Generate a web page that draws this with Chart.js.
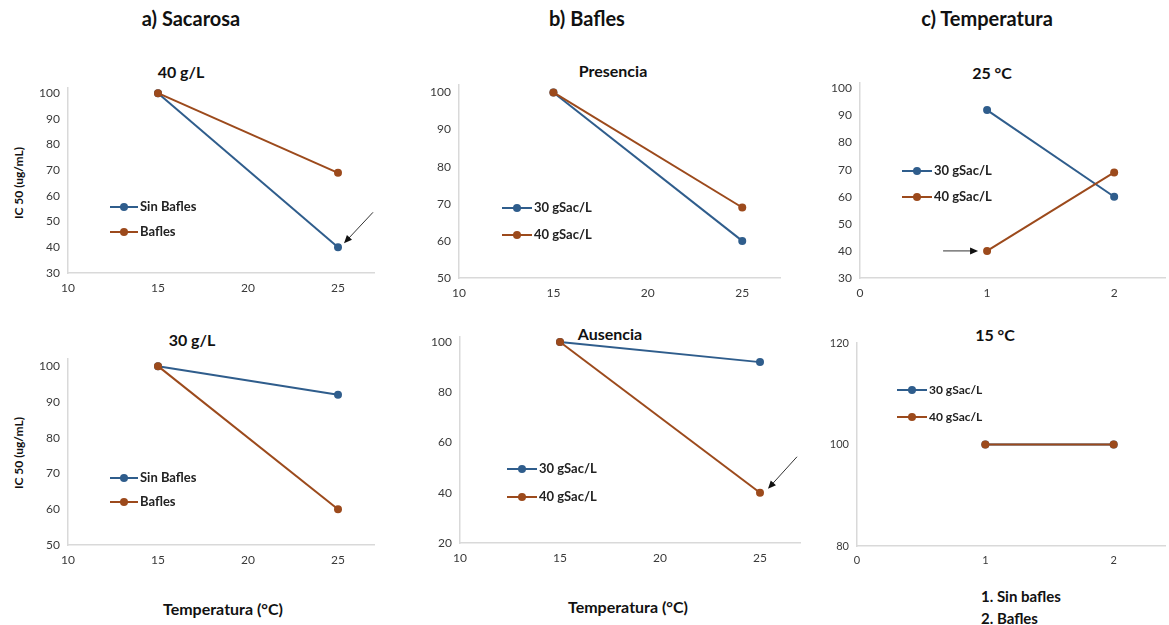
<!DOCTYPE html>
<html>
<head>
<meta charset="utf-8">
<script src="https://cdn.jsdelivr.net/npm/chart.js@4.4.0/dist/chart.umd.min.js"></script>
<style>
body{margin:0;background:#fff;width:1169px;height:625px;position:relative;overflow:hidden;font-family:Lato,"Open Sans",sans-serif;color:#111;}
.box{position:absolute;}
.lbl{position:absolute;transform:translate(-50%,-50%);font-weight:bold;white-space:nowrap;}
.head{font-size:20px;}
.sub{font-size:16px;}
.ytit{font-size:12px;transform:translate(-50%,-50%) rotate(-90deg);}
.note{position:absolute;font-weight:bold;font-size:15px;white-space:nowrap;transform:translateY(-50%);}
</style>
</head>
<body>

<div class="lbl head" style="left:191px;top:18px">a) Sacarosa</div>
<div class="lbl head" style="left:587px;top:18px">b) Bafles</div>
<div class="lbl head" style="left:987px;top:18px">c) Temperatura</div>

<div class="lbl sub" style="left:181px;top:71px">40 g/L</div>
<div class="lbl sub" style="left:192px;top:339px">30 g/L</div>
<div class="lbl sub" style="left:613px;top:70px">Presencia</div>
<div class="lbl sub" style="left:610px;top:333px">Ausencia</div>
<div class="lbl sub" style="left:992px;top:72px">25 °C</div>
<div class="lbl sub" style="left:995px;top:334px">15 °C</div>

<div class="lbl ytit" style="left:18px;top:183px">IC 50 (ug/mL)</div>
<div class="lbl ytit" style="left:18px;top:453px">IC 50 (ug/mL)</div>
<div class="lbl sub" style="left:223px;top:608px">Temperatura (°C)</div>
<div class="lbl sub" style="left:628px;top:606px">Temperatura (°C)</div>
<div class="note" style="left:981px;top:596px">1. Sin bafles</div>
<div class="note" style="left:981px;top:618px">2. Bafles</div>

<script>
// datos
const temperaturas = [15, 25];
const codigoBafles = [1, 2];

const sac40SinBafles = [100, 40];
const sac40Bafles = [100, 69];
const sac30SinBafles = [100, 92];
const sac30Bafles = [100, 60];

const presencia30 = [100, 60];
const presencia40 = [100, 69];
const ausencia30 = [100, 92];
const ausencia40 = [100, 40];

const t25gSac30 = [92, 60];
const t25gSac40 = [40, 69];
const t15gSac30 = [100, 100];
const t15gSac40 = [100, 100];

// marcas de los ejes
const ticksTemp = [10, 15, 20, 25];
const ticksCodigo = [0, 1, 2];
const ticksSac40 = [30, 40, 50, 60, 70, 80, 90, 100];
const ticksSac30 = [50, 60, 70, 80, 90, 100];
const ticksPresencia = [50, 60, 70, 80, 90, 100];
const ticksAusencia = [20, 40, 60, 80, 100];
const ticksT25 = [30, 40, 50, 60, 70, 80, 90, 100];
const ticksT15 = [80, 100, 120];

const AZUL = '#2F5D8C';
const CAFE = '#9C4A1C';
const YW = 45, XH = 30;

function puntos(xs, ys){
    return xs.map((x, i) => ({x: x, y: ys[i]}));
}

function serie(label, color, xs, ys, order){
    return {
        label: label,
        data: puntos(xs, ys),
        borderColor: color,
        backgroundColor: color,
        borderWidth: 2,
        pointRadius: 4,
        pointBorderWidth: 0,
        order: order,
        tension: 0
    };
}

// leyenda dibujada dentro del area
const leyendaPlugin = {
    id: 'leyenda',
    afterDraw(chart, args, opts){
        const ctx = chart.ctx;
        const a = chart.chartArea;
        ctx.save();
        chart.data.datasets.forEach((ds, i) => {
            const y = a.top + opts.y + i * opts.gap;
            const x0 = a.left + opts.x;
            const x1 = x0 + opts.len;
            ctx.strokeStyle = ds.borderColor;
            ctx.lineWidth = 2;
            ctx.beginPath();
            ctx.moveTo(x0, y);
            ctx.lineTo(x1, y);
            ctx.stroke();
            ctx.fillStyle = ds.borderColor;
            ctx.beginPath();
            ctx.arc((x0 + x1) / 2, y, 4, 0, Math.PI * 2);
            ctx.fill();
            ctx.fillStyle = '#222';
            ctx.font = 'bold ' + opts.size + 'px Lato';
            ctx.textBaseline = 'middle';
            ctx.fillText(ds.label, x1 + 2, y);
        });
        ctx.restore();
    }
};

// flechas que apuntan a un punto
const flechaPlugin = {
    id: 'flecha',
    afterDraw(chart, args, opts){
        if (!opts.lista) return;
        const ctx = chart.ctx;
        ctx.save();
        opts.lista.forEach(f => {
            const p = chart.getDatasetMeta(f.ds).data[f.i];
            const sx = p.x + f.sx, sy = p.y + f.sy;
            const ex = p.x + f.ex, ey = p.y + f.ey;
            const ang = Math.atan2(ey - sy, ex - sx);
            ctx.strokeStyle = '#333';
            ctx.fillStyle = '#111';
            ctx.lineWidth = 1;
            ctx.beginPath();
            ctx.moveTo(sx, sy);
            ctx.lineTo(ex - 6 * Math.cos(ang), ey - 6 * Math.sin(ang));
            ctx.stroke();
            ctx.beginPath();
            ctx.moveTo(ex, ey);
            ctx.lineTo(ex - 8 * Math.cos(ang) + 3.5 * Math.sin(ang), ey - 8 * Math.sin(ang) - 3.5 * Math.cos(ang));
            ctx.lineTo(ex - 8 * Math.cos(ang) - 3.5 * Math.sin(ang), ey - 8 * Math.sin(ang) + 3.5 * Math.cos(ang));
            ctx.closePath();
            ctx.fill();
        });
        ctx.restore();
    }
};

function escala(min, max, marcas, fit, tickSize){
    return {
        type: 'linear',
        min: min,
        max: max,
        grid: {display: false, drawTicks: false},
        border: {display: true, color: '#D9D9D9', width: 1.5},
        ticks: {padding: 8, color: '#3a3a3a', autoSkip: false, font: {family: 'Lato', size: tickSize}},
        afterBuildTicks: s => { s.ticks = marcas.map(v => ({value: v})); },
        afterFit: fit
    };
}

function panel(rect, m, datasets, xr, yr, leyenda, flechas, tickSize){
    const div = document.createElement('div');
    div.className = 'box';
    const w = rect.r - rect.l + m.l + m.r;
    const h = rect.b - rect.t + m.t + m.b;
    div.style.left = (rect.l - m.l) + 'px';
    div.style.top = (rect.t - m.t) + 'px';
    div.style.width = w + 'px';
    div.style.height = h + 'px';
    const cv = document.createElement('canvas');
    div.appendChild(cv);
    document.body.appendChild(div);
    new Chart(cv, {
        type: 'line',
        data: {datasets: datasets},
        options: {
            responsive: true,
            maintainAspectRatio: false,
            animation: false,
            events: [],
            layout: {padding: {left: m.l - YW, top: m.t, right: m.r, bottom: m.b - XH}},
            scales: {
                x: escala(xr[0], xr[1], xr[2], s => { s.height = XH; }, tickSize),
                y: escala(yr[0], yr[1], yr[2], s => { s.width = YW; }, tickSize)
            },
            plugins: {
                legend: {display: false},
                tooltip: {enabled: false},
                title: {display: false},
                leyenda: leyenda,
                flecha: {lista: flechas}
            }
        },
        plugins: [leyendaPlugin, flechaPlugin]
    });
}

const M = {l: 70, t: 40, r: 10, b: 40};
const MR = {l: 70, t: 40, r: 0, b: 40};

// a) Sacarosa 40 g/L
panel({l: 68, r: 374, t: 88, b: 273}, M,
    [serie('Sin Bafles', AZUL, temperaturas, sac40SinBafles, 1),
     serie('Bafles', CAFE, temperaturas, sac40Bafles, 0)],
    [10, 27, ticksTemp], [30, 102, ticksSac40],
    {x: 42, y: 119, gap: 25, len: 28, size: 13},
    [{ds: 0, i: 1, sx: 35, sy: -35, ex: 6, ey: -4}], 12);

// a) Sacarosa 30 g/L
panel({l: 68, r: 374, t: 359, b: 545}, M,
    [serie('Sin Bafles', AZUL, temperaturas, sac30SinBafles, 1),
     serie('Bafles', CAFE, temperaturas, sac30Bafles, 0)],
    [10, 27, ticksTemp], [50, 102, ticksSac30],
    {x: 42, y: 119, gap: 24, len: 28, size: 13}, [], 12);

// b) Bafles presencia
panel({l: 459, r: 780, t: 85, b: 278}, M,
    [serie('30 gSac/L', AZUL, temperaturas, presencia30, 1),
     serie('40 gSac/L', CAFE, temperaturas, presencia40, 0)],
    [10, 27, ticksTemp], [50, 102, ticksPresencia],
    {x: 43, y: 123, gap: 27, len: 30, size: 13}, [], 12);

// b) Bafles ausencia
panel({l: 460, r: 800, t: 337, b: 543}, M,
    [serie('30 gSac/L', AZUL, temperaturas, ausencia30, 1),
     serie('40 gSac/L', CAFE, temperaturas, ausencia40, 0)],
    [10, 27, ticksTemp], [20, 102, ticksAusencia],
    {x: 47, y: 132, gap: 28, len: 30, size: 13},
    [{ds: 1, i: 1, sx: 37, sy: -36, ex: 8, ey: -4}], 12);

// c) Temperatura 25 °C
panel({l: 860, r: 1169, t: 83, b: 278}, MR,
    [serie('30 gSac/L', AZUL, codigoBafles, t25gSac30, 1),
     serie('40 gSac/L', CAFE, codigoBafles, t25gSac40, 0)],
    [0, 2.4, ticksCodigo], [30, 102, ticksT25],
    {x: 42, y: 88, gap: 26, len: 30, size: 13},
    [{ds: 1, i: 0, sx: -44, sy: 0, ex: -9, ey: 0}], 12);

// c) Temperatura 15 °C
panel({l: 857, r: 1169, t: 343, b: 546}, MR,
    [serie('30 gSac/L', AZUL, codigoBafles, t15gSac30, 1),
     serie('40 gSac/L', CAFE, codigoBafles, t15gSac40, 0)],
    [0, 2.4, ticksCodigo], [80, 120, ticksT15],
    {x: 40, y: 47, gap: 27, len: 30, size: 12}, [], 11);
</script>
</body>
</html>
